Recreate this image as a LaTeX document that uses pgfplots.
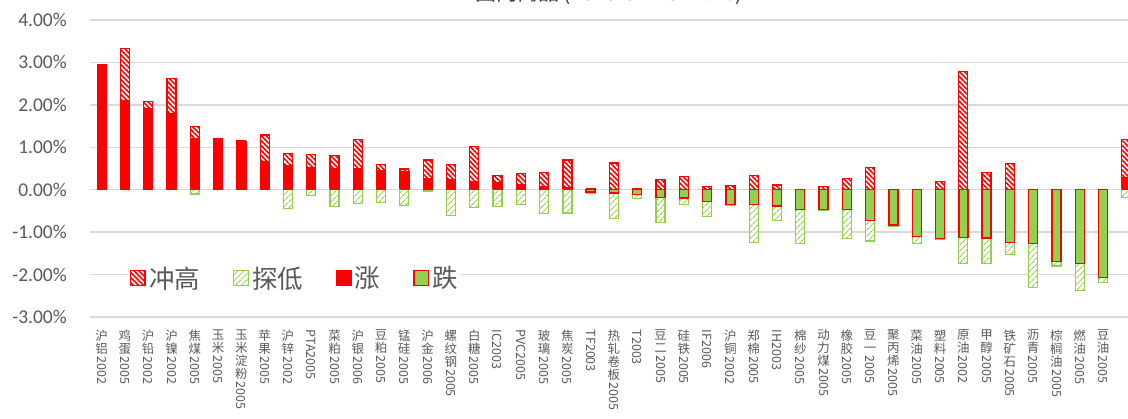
\documentclass[border=0pt]{standalone}
\usepackage{pgfplots}
\pgfplotsset{compat=1.18}
\usepackage{fontspec}
\usepackage{graphicx}
\setmainfont{Carlito}
\newfontfamily\cjk{Noto Sans CJK SC}
\usetikzlibrary{patterns.meta}
\definecolor{gr}{HTML}{92D050}
\definecolor{tx}{HTML}{595959}
\definecolor{gl}{HTML}{D9D9D9}
\newcommand{\V}[2]{#1\\\raisebox{10pt}{\rotatebox{-90}{#2}}}
\newcommand{\RR}[1]{\rotatebox{-90}{#1}}
\begin{document}
\begin{tikzpicture}
\useasboundingbox (0,0) rectangle (1128pt,419pt);
\node[anchor=base, font=\cjk\fontsize{21}{21}\selectfont, text=black!80] at (609pt,418.5pt) {国内商品 (2020-02-20 17:26)};
\begin{axis}[
  at={(90pt,102pt)}, anchor=south west,
  scale only axis, width=1048pt, height=297pt,
  xmin=-0.5, xmax=44.5, ymin=-3, ymax=4,
  axis line style={draw=none},
  major tick length=0pt,
  ymajorgrids, grid style={gl, line width=1.5pt},
  ytick={-3,-2,-1,0,1,2,3,4},
  yticklabels={-3.00\%,-2.00\%,-1.00\%,0.00\%,1.00\%,2.00\%,3.00\%,4.00\%},
  yticklabel style={font=\fontsize{19.5}{19.5}\selectfont, text=tx, inner sep=0pt, xshift=-23pt},
  xtick={0,...,44},
  xticklabels={\V{沪\\铝}{2002}, \V{鸡\\蛋}{2005}, \V{沪\\铅}{2002}, \V{沪\\镍}{2002}, \V{焦\\煤}{2005}, \V{玉\\米}{2005}, \V{玉\\米\\淀\\粉}{2005}, \V{苹\\果}{2005}, \V{沪\\锌}{2002}, \RR{PTA2005}, \V{菜\\粕}{2005}, \V{沪\\银}{2006}, \V{豆\\粕}{2005}, \V{锰\\硅}{2005}, \V{沪\\金}{2006}, \V{螺\\纹\\钢}{2005}, \V{白\\糖}{2005}, \RR{IC2003}, \RR{PVC2005}, \V{玻\\璃}{2005}, \V{焦\\炭}{2005}, \RR{TF2003}, \V{热\\轧\\卷\\板}{2005}, \RR{T2003}, \V{豆\\二}{2005}, \V{硅\\铁}{2005}, \RR{IF2006}, \V{沪\\铜}{2002}, \V{郑\\棉}{2005}, \RR{IH2003}, \V{棉\\纱}{2005}, \V{动\\力\\煤}{2005}, \V{橡\\胶}{2005}, \V{豆\\一}{2005}, \V{聚\\丙\\烯}{2005}, \V{菜\\油}{2005}, \V{塑\\料}{2005}, \V{原\\油}{2002}, \V{甲\\醇}{2005}, \V{铁\\矿\\石}{2005}, \V{沥\\青}{2005}, \V{棕\\榈\\油}{2005}, \V{燃\\油}{2005}, \V{豆\\油}{2005}, {}},
  xticklabel style={font=\cjk\fontsize{12.5}{13}\selectfont, text=tx, inner sep=0pt, align=center, anchor=north, yshift=-12.5pt},
  legend style={at={(0.037,0.131)}, anchor=west, draw=none, fill=white, inner sep=1pt,
    font=\cjk\fontsize{25.5}{25.5}\selectfont, text=tx, legend columns=4,
    nodes={inner sep=2pt},
    /tikz/every odd column/.append style={column sep=1.5pt},
    /tikz/every even column/.append style={column sep=31pt}},
  legend image code/.code={\draw[#1] (0pt,-7.5pt) rectangle (14.5pt,7.5pt);},
]
\addplot[ybar, bar width=9pt, bar shift=0pt, fill=white, draw=red, line width=1.2pt,
  postaction={pattern={Lines[angle=-45,distance=3.5pt,line width=1.6pt]}, pattern color=red}]
coordinates {(0,2.96)(1,3.33)(2,2.08)(3,2.63)(4,1.49)(5,1.21)(6,1.15)(7,1.29)(8,0.86)(9,0.83)(10,0.80)(11,1.19)(12,0.60)(13,0.49)(14,0.70)(15,0.59)(16,1.01)(17,0.33)(18,0.39)(19,0.41)(20,0.70)(21,0.02)(22,0.63)(23,0.03)(24,0.25)(25,0.31)(26,0.07)(27,0.09)(28,0.33)(29,0.11)(31,0.08)(32,0.27)(33,0.53)(36,0.20)(37,2.79)(38,0.41)(39,0.61)(44,1.19)};
\addlegendentry{冲高}
\addplot[ybar, bar width=9pt, bar shift=0pt, fill=white, draw=gr, line width=1.2pt,
  postaction={pattern={Lines[angle=45,distance=4pt,line width=1pt]}, pattern color=gr}]
coordinates {(4,-0.10)(8,-0.44)(9,-0.13)(10,-0.39)(11,-0.32)(12,-0.30)(13,-0.38)(14,-0.03)(15,-0.61)(16,-0.42)(17,-0.40)(18,-0.34)(19,-0.56)(20,-0.55)(21,-0.08)(22,-0.67)(23,-0.20)(24,-0.78)(25,-0.34)(26,-0.64)(27,-0.37)(28,-1.25)(29,-0.72)(30,-1.26)(31,-0.49)(32,-1.15)(33,-1.21)(34,-0.87)(35,-1.27)(36,-1.18)(37,-1.74)(38,-1.73)(39,-1.52)(40,-2.31)(41,-1.80)(42,-2.38)(43,-2.19)(44,-0.18)};
\addlegendentry{探低}
\addplot[ybar, bar width=9pt, bar shift=0pt, fill=red, draw=red, line width=0.6pt]
coordinates {(0,2.93)(1,2.10)(2,1.91)(3,1.79)(4,1.20)(5,1.21)(6,1.15)(7,0.68)(8,0.57)(9,0.53)(10,0.50)(11,0.50)(12,0.45)(13,0.43)(14,0.27)(15,0.25)(16,0.21)(17,0.17)(18,0.13)(19,0.09)(20,0.05)(44,0.29)};
\addlegendentry{涨}
\addplot[ybar, bar width=9pt, bar shift=0pt, fill=gr, draw=red, line width=1.4pt]
coordinates {(21,-0.05)(22,-0.08)(23,-0.11)(24,-0.18)(25,-0.20)(26,-0.28)(27,-0.35)(28,-0.35)(29,-0.38)(30,-0.46)(31,-0.47)(32,-0.47)(33,-0.72)(34,-0.83)(35,-1.10)(36,-1.15)(37,-1.12)(38,-1.14)(39,-1.24)(40,-1.27)(41,-1.69)(42,-1.74)(43,-2.07)};
\addlegendentry{跌}
\end{axis}
\end{tikzpicture}
\end{document}
